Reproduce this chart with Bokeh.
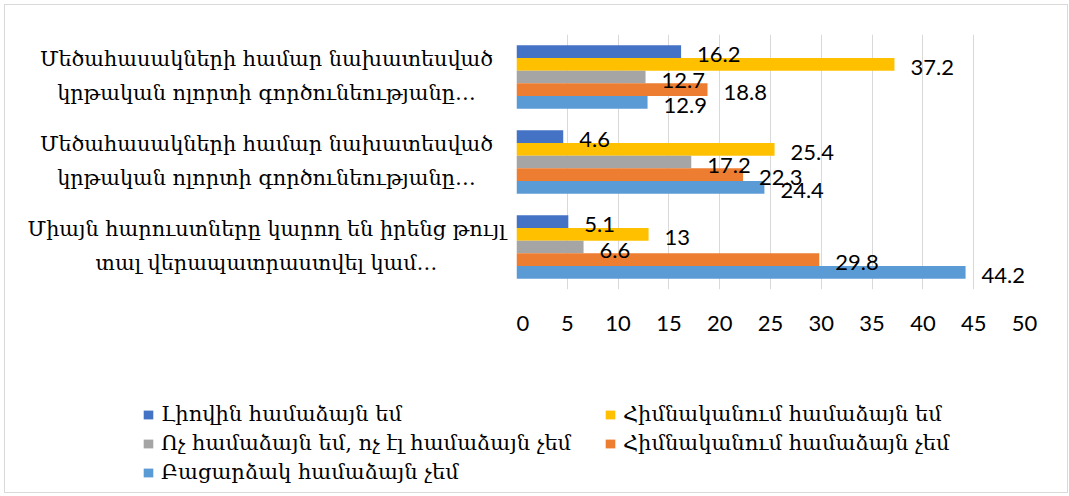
from bokeh.plotting import figure
from bokeh.layouts import column, row
from bokeh.models import (ColumnDataSource, LabelSet, Legend, LegendItem, Range1d,
                          FixedTicker)
from bokeh.core.properties import value
from bokeh.embed import file_html
from bokeh.resources import INLINE

# ---- data (categories listed top to bottom) ----
categories = [
    "Մեծահասակների համար նախատեսված\nկրթական ոլորտի գործունեությանը…",
    "Մեծահասակների համար նախատեսված\nկրթական ոլորտի գործունեությանը…",
    "Միայն հարուստները կարող են իրենց թույլ\nտալ վերապատրաստվել կամ…",
]
series_names = [
    "Լիովին համաձայն եմ",
    "Հիմնականում համաձայն եմ",
    "Ոչ համաձայն եմ, ոչ էլ համաձայն չեմ",
    "Հիմնականում համաձայն չեմ",
    "Բացարձակ համաձայն չեմ",
]
fully_agree = [16.2, 4.6, 5.1]
mostly_agree = [37.2, 25.4, 13]
neutral = [12.7, 17.2, 6.6]
mostly_disagree = [18.8, 22.3, 29.8]
fully_disagree = [12.9, 24.4, 44.2]
x_ticks = [0, 5, 10, 15, 20, 25, 30, 35, 40, 45, 50]

colors = ["#4472C4", "#FFC000", "#A5A5A5", "#ED7D31", "#5B9BD5"]
series_values = [fully_agree, mostly_agree, neutral, mostly_disagree, fully_disagree]

n_cat = len(categories)
cat_centers = [n_cat - 0.5 - i for i in range(n_cat)]  # top category at highest y
bar_h = 0.1494
offsets = [2 * bar_h, bar_h, 0.0, -bar_h, -2 * bar_h]

W_LAB, W_MAIN = 511, 551
H1, H2 = 380, 107
TOP, BOTTOM = 29, H1 - 284

y_range = Range1d(0, n_cat)

# ---- main bar chart ----
p = figure(width=W_MAIN, height=H1, output_backend="svg", toolbar_location=None,
           x_range=Range1d(0, 50), y_range=y_range, y_axis_type=None,
           min_border_left=0, min_border_right=W_MAIN - 508,
           min_border_top=TOP, min_border_bottom=BOTTOM)
p.frame_align = False
p.outline_line_color = None
p.background_fill_color = "white"
p.border_fill_color = "white"

renderers = []
label_x, label_y, label_t = [], [], []
for vals, col, off in zip(series_values, colors, offsets):
    ys = [c + off for c in cat_centers]
    src = ColumnDataSource(dict(y=ys, right=vals))
    r = p.hbar(y="y", right="right", left=0, height=bar_h, source=src,
               fill_color=col, line_color=None)
    renderers.append(r)
    label_x += vals
    label_y += ys
    label_t += [f"{v:g}" for v in vals]

lsrc = ColumnDataSource(dict(x=label_x, y=label_y, t=label_t))
p.add_layout(LabelSet(x="x", y="y", text="t", source=lsrc, x_offset=16, y_offset=-3,
                      text_font=value("Lato"), text_font_size="22px",
                      text_color="black", text_align="left", text_baseline="middle"))

p.xaxis.ticker = FixedTicker(ticks=x_ticks)
p.xaxis.axis_line_color = None
p.xaxis.major_tick_line_color = None
p.xaxis.minor_tick_line_color = None
p.xaxis.major_label_text_font = "Lato"
p.xaxis.major_label_text_font_size = "22px"
p.xaxis.major_label_text_color = "black"
p.xaxis.major_label_standoff = 20
p.xgrid.ticker = FixedTicker(ticks=x_ticks)
p.xgrid.grid_line_color = "#d9d9d9"
p.xgrid.grid_line_width = 1
p.ygrid.visible = False

# ---- category label panel (shares the y scale) ----
pl = figure(width=W_LAB, height=H1, output_backend="svg", toolbar_location=None,
            x_range=Range1d(0, W_LAB), y_range=y_range,
            x_axis_type=None, y_axis_type=None,
            min_border_left=0, min_border_right=0,
            min_border_top=TOP, min_border_bottom=BOTTOM)
pl.frame_align = False
pl.outline_line_color = None
pl.grid.visible = False
pl.border_fill_color = "white"
first_lines = [c.split("\n")[0] for c in categories]
second_lines = [c.split("\n")[1] for c in categories]
for lines, dy in ((first_lines, 18.5), (second_lines, -15.5)):
    csrc = ColumnDataSource(dict(x=[261] * n_cat, y=cat_centers, t=lines))
    pl.add_layout(LabelSet(x="x", y="y", text="t", source=csrc, y_offset=dy,
                           text_font=value("DejaVu Serif"), text_font_size="20.8px",
                           text_color="black",
                           text_align="center", text_baseline="middle"))

# ---- legend strip ----
p2 = figure(width=W_LAB + W_MAIN, height=H2, output_backend="svg", toolbar_location=None,
            x_range=Range1d(0, 1), y_range=Range1d(0, 1),
            x_axis_type=None, y_axis_type=None,
            min_border_left=0, min_border_right=0, min_border_top=0, min_border_bottom=0)
p2.frame_align = False
p2.outline_line_color = None
p2.grid.visible = False
p2.border_fill_color = "white"
swatches = [p2.hbar(y=[0], left=[0], right=[0], height=0, fill_color=c, line_color=None)
            for c in colors]

order = [0, 2, 4, 1, 3]
leg = Legend(items=[LegendItem(label=series_names[i], renderers=[swatches[i]]) for i in order],
             location=(137, 8), orientation="vertical", ncols=2,
             padding=0, margin=0, spacing=5, glyph_width=12, glyph_height=11,
             label_height=20, label_width=438, label_standoff=7,
             label_text_font="DejaVu Serif", label_text_font_size="21px",
             label_text_color="black", border_line_color=None,
             background_fill_alpha=0)
p2.add_layout(leg, "center")

layout = column(row(pl, p, spacing=0), p2, spacing=0,
                styles={"border": "1px solid #d9d9d9", "margin-left": "4px", "margin-top": "4px"})

open("out.html", "w").write(file_html(layout, INLINE))
